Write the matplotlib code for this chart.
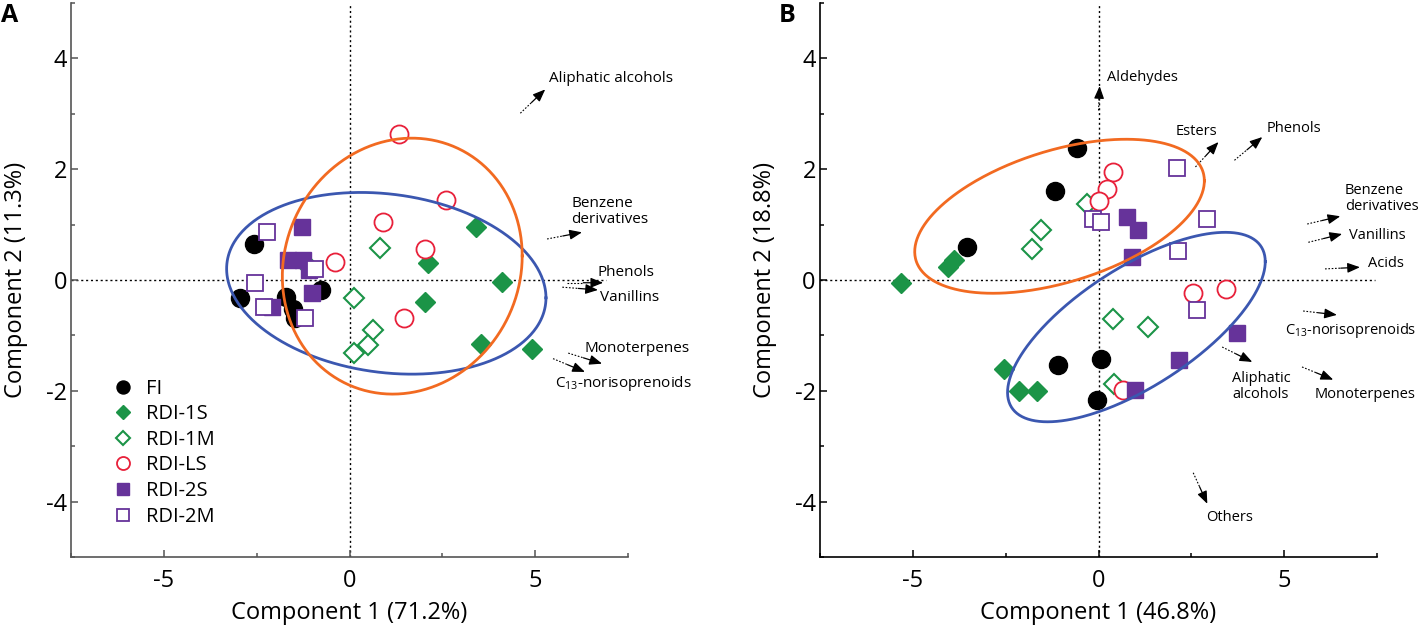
import numpy as np
import matplotlib.pyplot as plt
from matplotlib.ticker import MultipleLocator

plt.rcParams['font.family'] = ['Open Sans', 'DejaVu Sans']
plt.rcParams['mathtext.fontset'] = 'custom'
plt.rcParams['mathtext.rm'] = 'Open Sans'
plt.rcParams['axes.unicode_minus'] = False

groups = ["FI", "RDI-1S", "RDI-1M", "RDI-LS", "RDI-2S", "RDI-2M"]

# PCA scores, panel A (component 1, component 2)
fi_a = np.array([[-2.96, -0.33], [-2.58, 0.65], [-1.72, -0.31], [-1.53, -0.53], [-1.47, -0.69], [-0.78, -0.18]])
s1_a = np.array([[3.41, 0.96], [2.12, 0.30], [4.11, -0.03], [2.04, -0.39], [3.54, -1.16], [4.92, -1.25]])
m1_a = np.array([[0.81, 0.58], [-1.10, 0.24], [0.13, -0.33], [0.62, -0.90], [0.51, -1.17], [0.13, -1.32]])
ls_a = np.array([[1.32, 2.63], [2.61, 1.44], [0.91, 1.05], [2.02, 0.56], [-0.38, 0.32], [1.48, -0.69]])
s2_a = np.array([[-1.29, 0.96], [-1.67, 0.36], [-1.24, 0.36], [-1.08, 0.18], [-1.02, -0.23], [-2.10, -0.49]])
m2_a = np.array([[-2.23, 0.86], [-2.55, -0.06], [-2.31, -0.49], [-0.94, 0.19], [-1.21, -0.69]])

# PCA scores, panel B
fi_b = np.array([[-0.59, 2.38], [-1.16, 1.60], [-3.55, 0.60], [-1.10, -1.53], [0.08, -1.42], [-0.03, -2.16]])
s1_b = np.array([[-5.32, -0.05], [-4.06, 0.24], [-3.90, 0.36], [-2.55, -1.60], [-2.15, -2.01], [-1.67, -2.00]])
m1_b = np.array([[-0.32, 1.37], [-1.56, 0.90], [-1.80, 0.56], [0.40, -0.70], [1.32, -0.85], [0.43, -1.87]])
ls_b = np.array([[0.38, 1.95], [0.24, 1.64], [0.00, 1.42], [2.55, -0.24], [3.44, -0.16], [0.67, -1.98]])
s2_b = np.array([[0.78, 1.13], [1.05, 0.90], [0.91, 0.42], [3.74, -0.96], [2.18, -1.44], [0.99, -1.98]])
m2_b = np.array([[-0.16, 1.10], [0.08, 1.05], [2.10, 2.02], [2.93, 1.10], [2.15, 0.52], [2.66, -0.54]])

# confidence ellipses: centre x, centre y, half-width, half-height, correlation
ell_a_blue = (0.99, -0.06, 4.30, 1.64, -0.16)
ell_a_orange = (1.42, 0.25, 3.23, 2.31, 0.08)
ell_b_orange = (-1.05, 1.15, 3.90, 1.39, 0.46)
ell_b_blue = (1.02, -0.85, 3.47, 1.71, 0.69)

# loading vectors (tail -> head) and their labels
load_a_names = ["Aliphatic alcohols", "Benzene\nderivatives", "Phenols", "Vanillins",
                "Monoterpenes", r"C$_{\mathrm{13}}$-norisoprenoids"]
load_a_tail = np.array([[4.60, 3.01], [5.32, 0.74], [5.86, -0.05], [5.73, -0.13], [5.89, -1.32], [5.48, -1.42]])
load_a_head = np.array([[5.27, 3.44], [6.26, 0.86], [6.83, -0.05], [6.69, -0.18], [6.80, -1.51], [6.34, -1.66]])
load_a_text = np.array([[5.38, 3.64], [5.97, 1.24], [6.69, 0.13], [6.75, -0.31], [6.34, -1.23], [5.54, -1.86]])
load_a_ha = ["left"] * 6

load_b_names = ["Aldehydes", "Esters", "Phenols", "Benzene\nderivatives", "Vanillins", "Acids",
                r"C$_{\mathrm{13}}$-norisoprenoids", "Aliphatic\nalcohols", "Monoterpenes", "Others"]
load_b_tail = np.array([[0.00, 3.06], [2.61, 2.04], [3.66, 2.16], [5.62, 1.01], [5.65, 0.68],
                        [6.10, 0.20], [5.51, -0.56], [3.33, -1.21], [5.48, -1.57], [2.55, -3.48]])
load_b_head = np.array([[0.03, 3.50], [3.23, 2.49], [4.41, 2.58], [6.51, 1.15], [6.56, 0.83],
                        [7.04, 0.23], [6.42, -0.63], [4.14, -1.48], [6.32, -1.80], [2.93, -4.04]])
load_b_text = np.array([[0.24, 3.66], [2.63, 2.68], [4.54, 2.74], [6.64, 1.47], [6.75, 0.81],
                        [7.26, 0.29], [5.03, -0.92], [3.60, -1.93], [5.83, -2.07], [2.90, -4.29]])
load_b_ha = ["left", "center", "left", "left", "left", "left", "left", "left", "left", "left"]

green = "#1b9447"
purple = "#66339a"
styles = [
    dict(marker="o", color="black", mfc="black", ms=13),
    dict(marker="D", color=green, mfc=green, ms=10.5),
    dict(marker="D", color=green, mfc="white", ms=10.5, mew=1.5),
    dict(marker="o", color="#e8203a", mfc="white", ms=13, mew=1.3),
    dict(marker="s", color=purple, mfc=purple, ms=11.5),
    dict(marker="s", color=purple, mfc="white", ms=11.5, mew=1.3),
]


def draw_ellipse(ax, params, color):
    cx, cy, sx, sy, rho = params
    cov = np.array([[sx * sx, rho * sx * sy], [rho * sx * sy, sy * sy]])
    L = np.linalg.cholesky(cov)
    t = np.linspace(0, 2 * np.pi, 400)
    pts = L @ np.vstack([np.cos(t), np.sin(t)])
    ax.plot(cx + pts[0], cy + pts[1], color=color, lw=2.0, zorder=5)


def draw_loadings(ax, names, tails, heads, texts, has, fs):
    for name, (x0, y0), (x1, y1), (tx, ty), ha in zip(names, tails, heads, texts, has):
        xm = x0 + 0.45 * (x1 - x0)
        ym = y0 + 0.45 * (y1 - y0)
        ax.plot([x0, xm], [y0, ym], color="black", lw=0.8, ls=(0, (1.5, 1.5)), zorder=3)
        ax.annotate("", xy=(x1, y1), xytext=(xm, ym),
                    arrowprops=dict(arrowstyle="-|>,head_length=0.75,head_width=0.3",
                                    color="black", lw=0.9, shrinkA=0, shrinkB=0), zorder=3)
        ax.text(tx, ty, name, ha=ha, va="center", fontsize=fs, linespacing=1.1)


def style_axes(ax, xlabel, ylabel, spine_color, hline_end):
    ax.set_xlim(-7.5, 7.5)
    ax.set_ylim(-5, 5)
    ax.axvline(0, color="black", lw=1, ls=(0, (1.5, 2)), zorder=1)
    ax.axhline(0, xmin=0, xmax=(hline_end + 7.5) / 15, color="black", lw=1, ls=(0, (1.5, 2)), zorder=1)
    for side in ["top", "right"]:
        ax.spines[side].set_visible(False)
    for side in ["left", "bottom"]:
        ax.spines[side].set_color(spine_color)
        ax.spines[side].set_linewidth(1.2)
    ax.xaxis.set_major_locator(MultipleLocator(5))
    ax.xaxis.set_minor_locator(MultipleLocator(2.5))
    ax.yaxis.set_major_locator(MultipleLocator(2))
    ax.yaxis.set_minor_locator(MultipleLocator(1))
    ax.tick_params(which="both", direction="in", color=spine_color, labelsize=17)
    ax.tick_params(which="major", length=5, width=1.1)
    ax.tick_params(which="minor", length=3, width=1.1)
    ax.tick_params(axis="x", pad=9)
    ax.tick_params(axis="y", pad=3)
    ax.set_xlabel(xlabel, fontsize=17)
    ax.set_ylabel(ylabel, fontsize=17)
    ax.xaxis.set_label_coords(0.5, -0.08)
    ax.yaxis.set_label_coords(-0.077, 0.5)


fig = plt.figure(figsize=(14.18, 6.33), dpi=100)
axA = fig.add_axes([0.0501, 0.1201, 0.3928, 0.8752])
axB = fig.add_axes([0.5783, 0.1201, 0.3928, 0.8752])

for ax, sets in [(axA, [fi_a, s1_a, m1_a, ls_a, s2_a, m2_a]), (axB, [fi_b, s1_b, m1_b, ls_b, s2_b, m2_b])]:
    for name, pts, st in zip(groups, sets, styles):
        ax.plot(pts[:, 0], pts[:, 1], ls="none", label=name, zorder=4, **st)

draw_ellipse(axA, ell_a_blue, "#3b57b0")
draw_ellipse(axA, ell_a_orange, "#f26a21")
draw_ellipse(axB, ell_b_orange, "#f26a21")
draw_ellipse(axB, ell_b_blue, "#3b57b0")

draw_loadings(axA, load_a_names, load_a_tail, load_a_head, load_a_text, load_a_ha, 11)
draw_loadings(axB, load_b_names, load_b_tail, load_b_head, load_b_text, load_b_ha, 10.5)

style_axes(axA, "Component 1 (71.2%)", "Component 2 (11.3%)", "#555555", 6.9)
style_axes(axB, "Component 1 (46.8%)", "Component 2 (18.8%)", "black", 7.45)

axA.legend(loc="lower left", bbox_to_anchor=(0.06, 0.04), frameon=False, fontsize=14.5,
           markerscale=0.72, handlelength=1.0, handletextpad=0.65, labelspacing=0.28,
           borderaxespad=0)

fig.text(0.001, 0.975, "A", fontsize=18, weight="bold", va="center", ha="left")
fig.text(0.549, 0.975, "B", fontsize=18, weight="bold", va="center", ha="left")

fig.savefig("out.png", dpi=100)
